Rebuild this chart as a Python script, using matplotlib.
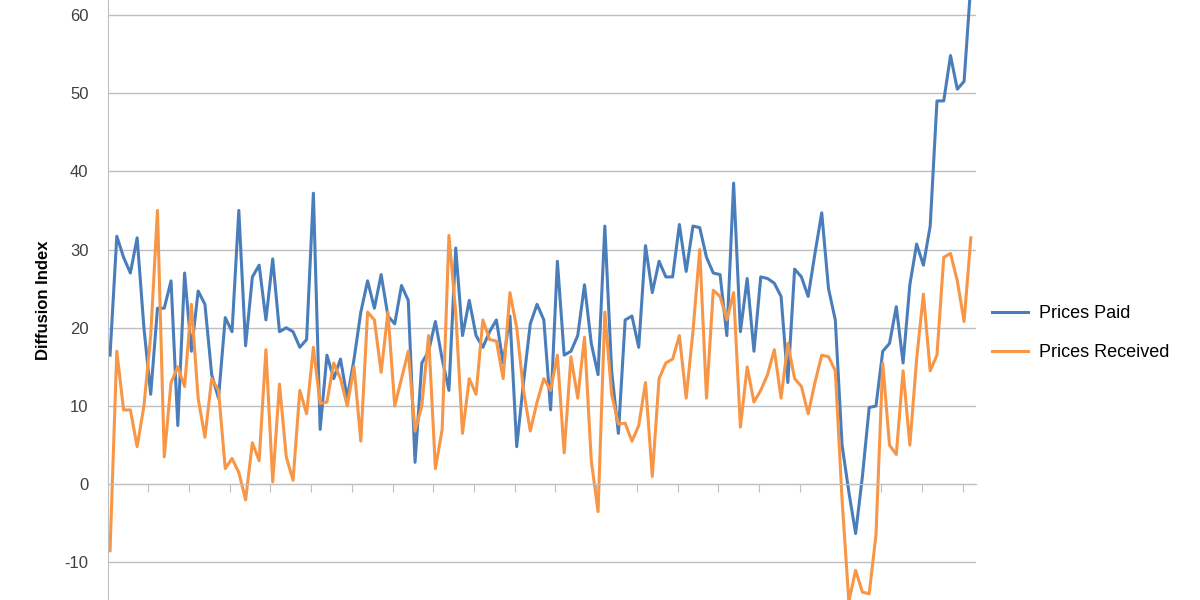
import numpy as np
import matplotlib.pyplot as plt

plt.rcParams['font.family'] = ['Liberation Sans', 'DejaVu Sans']
plt.rcParams['axes.unicode_minus'] = False

prices_paid = [16.5, 31.7, 29, 27, 31.5, 20, 11.5, 22.5, 22.5, 26, 7.5, 27, 17, 24.7, 23, 14, 11, 21.3,
               19.5, 35, 17.7, 26.5, 28, 21, 28.8, 19.5, 20, 19.5, 17.5, 18.5, 37.2, 7, 16.5, 13.5, 16,
               11, 16, 22, 26, 22.5, 26.8, 21.5, 20.5, 25.4, 23.5, 2.8, 15.5, 17, 20.8, 16, 12, 30.2,
               19, 23.5, 19, 17.5, 19.5, 21, 15.5, 21.5, 4.8, 13, 20.5, 23, 21, 9.5, 28.5, 16.5, 17,
               19, 25.5, 18, 14, 33, 14.5, 6.5, 21, 21.5, 17.5, 30.5, 24.5, 28.5, 26.5, 26.5, 33.2,
               27.2, 33, 32.8, 29, 27, 26.8, 19, 38.5, 19.5, 26.3, 17, 26.5, 26.3, 25.7, 24, 13, 27.5,
               26.5, 24, 29.5, 34.7, 25, 21, 5, -1, -6.3, 1, 9.8, 10, 17, 18, 22.7, 15.5, 25.5, 30.7,
               28, 33, 49, 49, 54.8, 50.5, 51.5, 64]
prices_received = [-8.5, 17, 9.5, 9.5, 4.8, 10, 19, 35, 3.5, 13, 15, 12.5, 23, 11, 6, 13.5, 12, 2,
                   3.3, 1.5, -2, 5.3, 3, 17.2, 0.3, 12.8, 3.5, 0.5, 12, 9, 17.5, 10.3, 10.5, 15.5, 13.5,
                   10, 15, 5.5, 22, 21, 14.3, 22, 10, 13.5, 17, 6.8, 10, 19, 2, 7, 31.8, 22,
                   6.5, 13.5, 11.5, 21, 18.5, 18.3, 13.5, 24.5, 20, 12, 6.8, 10.5, 13.5, 12, 16.5, 4, 16.3,
                   11, 18.8, 3, -3.5, 22, 11.5, 7.7, 7.8, 5.5, 7.5, 13, 1, 13.5, 15.5, 16, 19,
                   11, 19.5, 30, 11, 24.8, 24, 21, 24.5, 7.3, 15, 10.5, 12, 14, 17.2, 11, 18, 13.5,
                   12.5, 9, 13, 16.5, 16.3, 14.5, -2, -15, -11, -13.8, -14, -6.5, 15.5, 5, 3.8, 14.5, 5,
                   16, 24.3, 14.5, 16.5, 29, 29.5, 26, 20.8, 31.5]

n = len(prices_paid)
x = np.arange(n)

fig = plt.figure(figsize=(12, 6), dpi=100)
ax = fig.add_axes([0.09, 0.0, 0.723, 1.0])
ax.plot(x, prices_paid, color='#4a7ebb', lw=2.2, label='Prices Paid')
ax.plot(x, prices_received, color='#f79646', lw=2.2, label='Prices Received')

ax.set_ylim(-14.8, 61.9)
ax.set_xlim(-0.3, n - 0.3)
ax.set_yticks(range(-10, 61, 10))
ax.yaxis.grid(True, color='#bfbfbf', lw=1)
ax.set_axisbelow(True)

step = (n - 1) / 860 * 40.7
ax.set_xticks(np.arange((148 - 110) / 860 * (n - 1), n, step))
ax.set_xticklabels([])
ax.tick_params(axis='x', direction='out', length=6, color='#bfbfbf')
ax.tick_params(axis='y', length=0, labelsize=12, colors='#404040', pad=14)

ax.spines['bottom'].set_position(('data', 0))
ax.spines['bottom'].set_color('#bfbfbf')
ax.spines['left'].set_color('#bfbfbf')
ax.spines['top'].set_visible(False)
ax.spines['right'].set_visible(False)

ax.set_ylabel('Diffusion Index', fontsize=12, fontweight='bold', labelpad=10)
ax.legend(loc='center left', bbox_to_anchor=(1.0, 0.445), frameon=False,
          fontsize=13, handlelength=2.0, handletextpad=0.6, labelspacing=1.2)

fig.savefig('out.png', dpi=100)
